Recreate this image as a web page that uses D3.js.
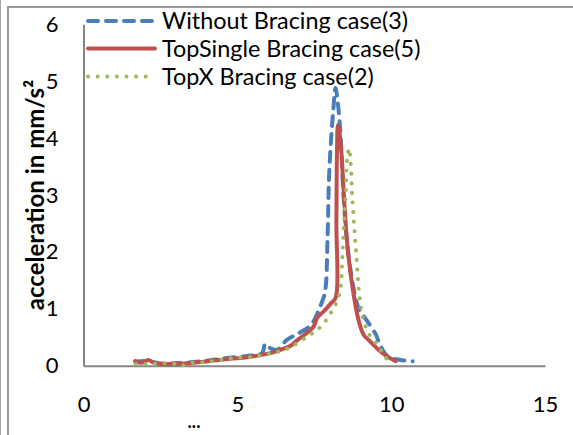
<!DOCTYPE html>
<html><head><meta charset="utf-8">
<script src="https://cdn.jsdelivr.net/npm/d3@7"></script>
<style>body{margin:0;background:#fff}svg{display:block}</style>
</head><body>
<script>
const seriesNames = ["Without Bracing case(3)", "TopSingle Bracing case(5)", "TopX Bracing case(2)"];
const seriesColors = ["#4a7ebb", "#c0504d", "#9bbb59"];
const xTicks = [0, 5, 10, 15];
const yTicks = [0, 1, 2, 3, 4, 5, 6];
const yTitle = "acceleration in mm/s²";
const xTitle = "...";

const withoutX = [1.68,2.1,2.5,3.2,3.9,4.6,5.3,5.8,5.9,6.0,6.3,6.6,7.0,7.4,7.7,7.85,7.93,7.98,8.05,8.12,8.19,8.27,8.35,8.45,8.6,8.8,8.95,9.2,9.5,9.65,9.9,10.3,10.7];
const withoutY = [0.07,0.08,0.04,0.05,0.08,0.13,0.17,0.22,0.38,0.33,0.28,0.45,0.57,0.72,1.05,1.3,2.2,3.3,4.0,4.5,4.88,4.6,4.1,3.0,2.0,1.3,1.0,0.8,0.55,0.35,0.16,0.1,0.08];

const singleX = [1.68,1.9,2.1,2.33,2.7,3.14,3.9,4.55,5.32,6.07,6.4,6.73,6.95,7.47,7.6,7.8,8.05,8.2,8.22,8.24,8.27,8.36,8.46,8.57,8.74,8.94,9.1,9.27,9.55,9.88,10.15];
const singleY = [0.08,0.05,0.1,0.04,0.03,0.03,0.07,0.11,0.15,0.22,0.28,0.35,0.45,0.68,0.85,0.95,1.1,1.2,2.5,3.8,4.23,3.9,3.03,2.15,1.39,0.8,0.55,0.45,0.3,0.16,0.08];

const topXX = [1.7,2.1,2.5,2.9,3.14,3.5,3.9,4.3,4.65,5.0,5.4,5.75,6.1,6.43,6.77,7.27,7.7,8.03,8.25,8.36,8.41,8.46,8.52,8.57,8.63,8.68,8.73,8.8,8.88,8.96,9.1,9.33,9.6,9.8,10.0];
const topXY = [0.03,0.03,0.04,0.04,0.0,0.05,0.06,0.09,0.12,0.14,0.15,0.18,0.22,0.26,0.34,0.51,0.68,0.92,1.15,1.39,1.86,2.45,3.03,3.63,3.82,3.6,3.03,2.45,1.86,1.27,0.8,0.51,0.33,0.15,0.08];

const W = 573, H = 435;
const svg = d3.select("body").append("svg").attr("width", W).attr("height", H);
const font = "Lato, 'Open Sans', sans-serif";

// outer frame
svg.append("line").attr("x1",0.5).attr("x2",0.5).attr("y1",0).attr("y2",H).attr("stroke","#a6a6a6").attr("stroke-width",1);
svg.append("path").attr("d",`M8,${H}V7H${W}`).attr("fill","none").attr("stroke","#9a9a9a").attr("stroke-width",2);

const x = d3.scaleLinear().domain([0,15]).range([83.5,545]);
const y = d3.scaleLinear().domain([0,6]).range([365.7,24.3]);

// axes
const xAxis = d3.axisBottom(x).tickValues(xTicks).tickFormat(d3.format("d")).tickSize(0).tickPadding(31);
const gx = svg.append("g").attr("transform",`translate(0,${y(0)})`).call(xAxis);
const yAxis = d3.axisLeft(y).tickValues(yTicks).tickFormat(d3.format("d")).tickSize(0).tickPadding(25);
const gy = svg.append("g").attr("transform",`translate(${x(0)},0)`).call(yAxis);
[gx,gy].forEach(g=>{
  g.select(".domain").attr("stroke","#868686").attr("stroke-width",2);
  g.selectAll("text").attr("font-family",font).attr("font-size",22).attr("fill","#000");
});

// titles
svg.append("text").attr("transform","translate(44,195) rotate(-90)").attr("text-anchor","middle")
  .attr("font-family",font).attr("font-weight","bold").attr("font-size",24).text(yTitle);
svg.append("text").attr("x",194).attr("y",428).attr("text-anchor","middle")
  .attr("font-family",font).attr("font-weight","bold").attr("font-size",18).text(xTitle);

const series = [
  {xs: withoutX, ys: withoutY, dash: "10,8", cap: "round"},
  {xs: singleX, ys: singleY, dash: null, cap: "round"},
  {xs: topXX, ys: topXY, dash: "0.1,9.5", cap: "round"}
];
const line = d3.line().x(d=>x(d[0])).y(d=>y(d[1])).curve(d3.curveCatmullRom.alpha(0.5));
series.forEach((s,i)=>{
  const pts = s.xs.map((v,j)=>[v,s.ys[j]]);
  const p = svg.append("path").attr("d",line(pts)).attr("fill","none")
    .attr("stroke",seriesColors[i]).attr("stroke-width",4).attr("stroke-linecap",s.cap).attr("stroke-linejoin","round");
  if (s.dash) p.attr("stroke-dasharray",s.dash);
});

// legend
const legY = [21, 48.5, 76.5];
series.forEach((s,i)=>{
  const l = svg.append("line").attr("x1",88).attr("x2",155).attr("y1",legY[i]).attr("y2",legY[i])
    .attr("stroke",seriesColors[i]).attr("stroke-width",4).attr("stroke-linecap",s.cap);
  if (s.dash) l.attr("stroke-dasharray",s.dash);
  svg.append("text").attr("x",162).attr("y",legY[i]).attr("dy","0.35em")
    .attr("font-family",font).attr("font-size",23.4).attr("fill","#000").text(seriesNames[i]);
});
</script>
</body></html>
